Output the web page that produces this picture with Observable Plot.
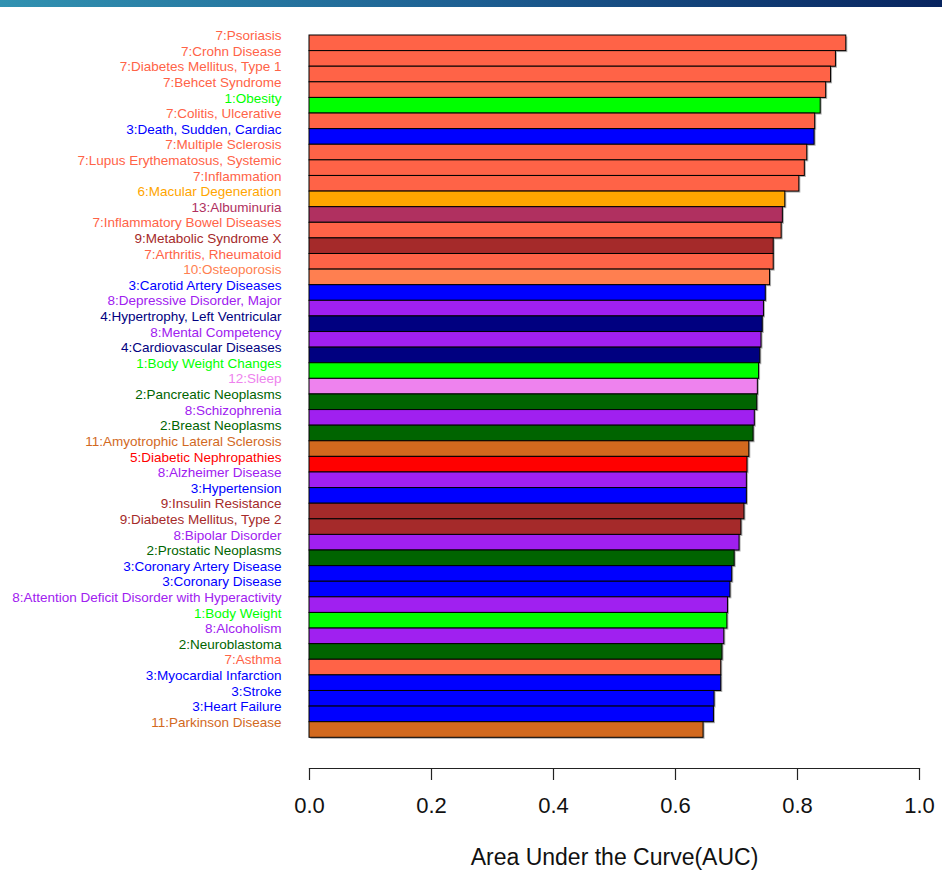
<!DOCTYPE html>
<html>
<head>
<meta charset="utf-8">
<script src="https://cdn.jsdelivr.net/npm/d3@7"></script>
<script src="https://cdn.jsdelivr.net/npm/@observablehq/plot@0.6"></script>
<style>
  html, body { margin: 0; padding: 0; background: #fff; }
  #wrap { position: relative; width: 942px; height: 893px; }
  #strip { position: absolute; left: 0; top: 0; width: 942px; height: 7px;
           background: linear-gradient(to right, #3192b1 0%, #1d5f92 50%, #08245f 100%); }
  svg { font-family: "Liberation Sans", Arial, Helvetica, sans-serif; }
</style>
</head>
<body>
<div id="wrap"><div id="strip"></div><div id="chart"></div></div>
<script>
const groups = [7,7,7,7,1,7,3,7,7,7,6,13,7,9,7,10,3,8,4,8,4,1,12,2,8,2,11,5,8,3,9,9,8,2,3,3,8,1,8,2,7,3,3,3,11];
const diseases = [
  "Psoriasis","Crohn Disease","Diabetes Mellitus, Type 1","Behcet Syndrome","Obesity",
  "Colitis, Ulcerative","Death, Sudden, Cardiac","Multiple Sclerosis","Lupus Erythematosus, Systemic","Inflammation",
  "Macular Degeneration","Albuminuria","Inflammatory Bowel Diseases","Metabolic Syndrome X","Arthritis, Rheumatoid",
  "Osteoporosis","Carotid Artery Diseases","Depressive Disorder, Major","Hypertrophy, Left Ventricular","Mental Competency",
  "Cardiovascular Diseases","Body Weight Changes","Sleep","Pancreatic Neoplasms","Schizophrenia",
  "Breast Neoplasms","Amyotrophic Lateral Sclerosis","Diabetic Nephropathies","Alzheimer Disease","Hypertension",
  "Insulin Resistance","Diabetes Mellitus, Type 2","Bipolar Disorder","Prostatic Neoplasms","Coronary Artery Disease",
  "Coronary Disease","Attention Deficit Disorder with Hyperactivity","Body Weight","Alcoholism","Neuroblastoma",
  "Asthma","Myocardial Infarction","Stroke","Heart Failure","Parkinson Disease"
];
const auc = [0.880,0.863,0.855,0.847,0.838,0.829,0.828,0.816,0.812,0.803,
             0.780,0.776,0.774,0.761,0.761,0.755,0.748,0.745,0.743,0.741,
             0.739,0.737,0.735,0.734,0.730,0.728,0.721,0.718,0.717,0.717,
             0.713,0.708,0.705,0.697,0.693,0.690,0.686,0.685,0.680,0.677,
             0.675,0.675,0.664,0.663,0.646];
const groupIds = [1,2,3,4,5,6,7,8,9,10,11,12,13];
const groupColors = ["#00FF00","#006400","#0000FF","#000080","#FF0000","#FFA500","#FF6347",
                     "#A020F0","#A52A2A","#FF7F50","#D2691E","#EE82EE","#B03060"];
const xTicks = [0, 0.2, 0.4, 0.6, 0.8, 1.0];
const xLabel = "Area Under the Curve(AUC)";

const colorOf = new Map(groupIds.map((g, i) => [g, groupColors[i]]));
const data = diseases.map((d, i) => ({
  label: `${groups[i]}:${d}`,
  value: auc[i],
  color: colorOf.get(groups[i])
}));
const labels = data.map(d => d.label);

const chart = Plot.plot({
  width: 942,
  height: 893,
  marginLeft: 309,
  marginRight: 23,
  marginTop: 35,
  marginBottom: 125,
  style: {fontFamily: '"Liberation Sans", Arial, Helvetica, sans-serif', background: "transparent"},
  x: {domain: [0, 1]},
  y: {type: "band", domain: labels, range: [35, 737.3], padding: 0, round: false, axis: null},
  color: {type: "identity"},
  marks: [
    Plot.barX(data, {x: "value", y: "label", fill: "#8a8a8a", dx: 1.5, dy: 1.5, fillOpacity: 0.7}),
    Plot.barX(data, {x: "value", y: "label", fill: "color", stroke: "black", strokeWidth: 1}),
    Plot.text(data, {x: 0, y: "label", text: "label", fill: "color", textAnchor: "end", dx: -28, dy: -7.5, fontSize: 13.5}),
    Plot.axisX({ticks: xTicks, tickFormat: d3.format(".1f"), tickSize: 12, tickPadding: 16.5, fontSize: 22, label: null, stroke: "#222", strokeWidth: 1.2, color: "#111"}),
    Plot.frame({anchor: "bottom", stroke: "#222", strokeWidth: 1.2}),
    Plot.text([xLabel], {frameAnchor: "bottom", dy: 96, text: d => d, fontSize: 23, fill: "#111"})
  ]
});
document.getElementById("chart").appendChild(chart);
</script>
</body>
</html>
